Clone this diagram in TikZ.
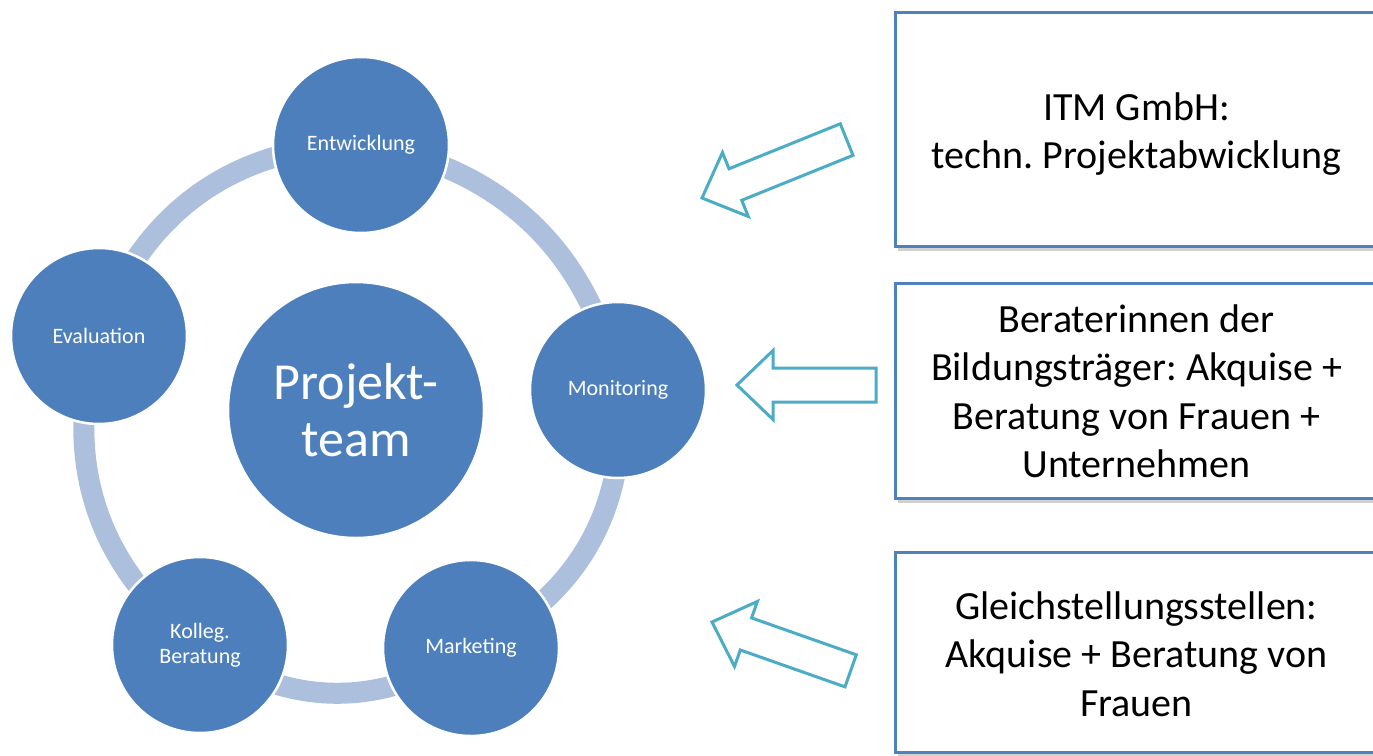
\documentclass[tikz,border=0pt]{standalone}
\usepackage{fontspec}
\setmainfont{Carlito}
\usetikzlibrary{shadows,backgrounds}
\definecolor{nodeblue}{RGB}{77,127,188}
\definecolor{ringblue}{RGB}{172,191,221}
\definecolor{arrowcyan}{RGB}{75,172,198}
\definecolor{boxblue}{RGB}{79,129,189}
\frenchspacing
\newcommand{\boxtext}[2]{\raisebox{#1}[\height][\depth]{\begin{tabular}{@{}c@{}}#2\end{tabular}}}
\begin{document}
\begin{tikzpicture}[x=1pt,y=-1pt,
  phase/.style={circle, fill=nodeblue, draw=white, line width=2.5pt, minimum size=176pt, inner sep=0pt, text=white, align=center, font=\fontsize{22}{25}\selectfont},
  hub/.style={phase, minimum size=256pt, font=\fontsize{52}{57}\selectfont},
  ringarc/.style={draw=ringblue, line width=21pt},
  infobox/.style={rectangle, draw=boxblue, line width=3pt, fill=white, minimum width=483pt, inner sep=0pt, text=black, font=\fontsize{40}{48.5}\selectfont, drop shadow={shadow xshift=3pt, shadow yshift=-5pt, opacity=0.3, fill=black!60}},
  blockarrow/.style={draw=arrowcyan, line width=3pt, fill=white, line join=miter}]
\clip (0,0) rectangle (1373,755);
\useasboundingbox (0,0) rectangle (1373,755);

% ring of phases
\node[phase] (E) at (361,145) {Entwicklung};
\node[phase] (M) at (618,390) {Monitoring};
\node[phase] (Ma) at (471,648) {Marketing};
\node[phase] (K) at (200,645) {Kolleg.\\Beratung};
\node[phase] (Ev) at (99,336) {Evaluation};
\node[hub] (P) at (356,410) {Projekt-\\team};

\begin{scope}[on background layer]
  \draw[ringarc] (E.center) to[bend left=36] (M.center);
  \draw[ringarc] (M.center) to[bend left=36] (Ma.center);
  \draw[ringarc] (Ma.center) to[bend left=36] (K.center);
  \draw[ringarc] (K.center) to[bend left=36] (Ev.center);
  \draw[ringarc] (Ev.center) to[bend left=36] (E.center);
\end{scope}

% info boxes
\node[infobox, minimum height=234pt] (B1) at (1136.5,129) {\boxtext{-6pt}{ITM GmbH:\\techn. Projektabwicklung}};
\node[infobox, minimum height=215pt] (B2) at (1136.5,390.5) {\boxtext{-5pt}{Beraterinnen der\\Bildungsträger: Akquise +\\Beratung von Frauen +\\Unternehmen}};
\node[infobox, minimum height=200pt] (B3) at (1136.5,652) {\boxtext{-6pt}{Gleichstellungsstellen:\\Akquise + Beratung von\\Frauen}};

% block arrows
\begin{scope}[shift={(702,198)}, rotate=22]
  \draw[blockarrow] (0,0) -- (36,-34.5) -- (36,-17) -- (156,-17) -- (156,17) -- (36,17) -- (36,34.5) -- cycle;
\end{scope}
\begin{scope}[shift={(737,385)}]
  \draw[blockarrow] (0,0) -- (36,-34.5) -- (36,-17) -- (139,-17) -- (139,17) -- (36,17) -- (36,34.5) -- cycle;
\end{scope}
\begin{scope}[shift={(712,622)}, rotate=-19.4]
  \draw[blockarrow] (0,0) -- (36,-34.5) -- (36,-17) -- (147,-17) -- (147,17) -- (36,17) -- (36,34.5) -- cycle;
\end{scope}
\end{tikzpicture}
\end{document}
